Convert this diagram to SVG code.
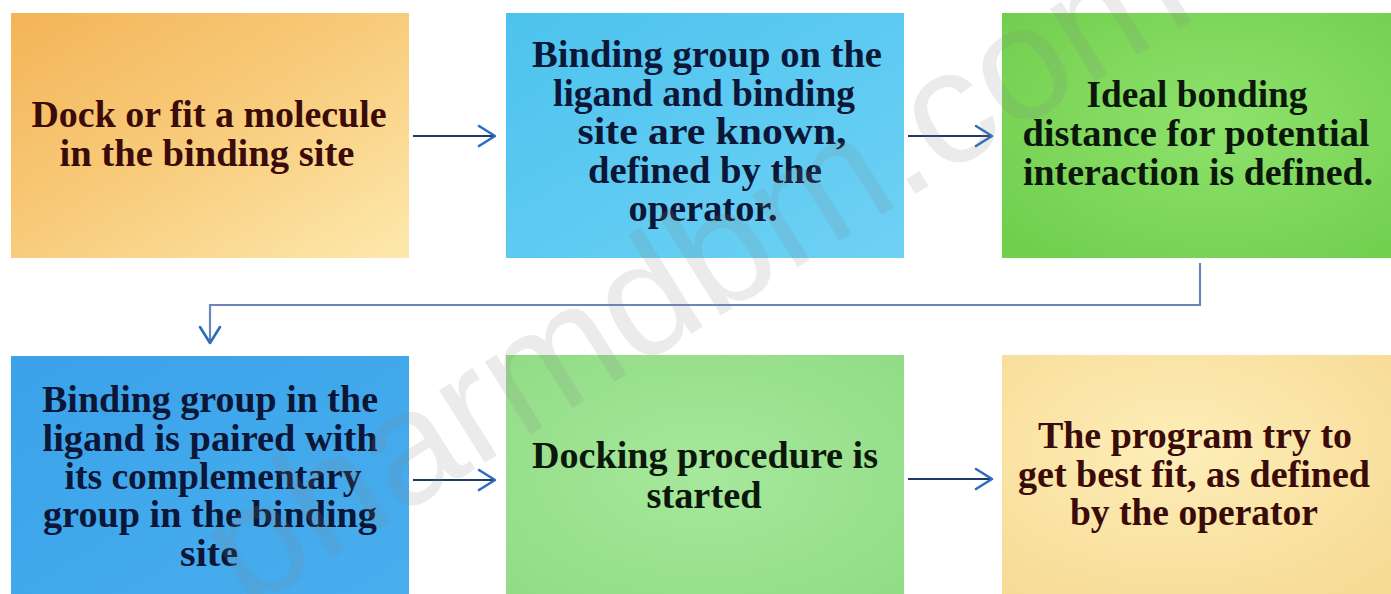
<svg xmlns="http://www.w3.org/2000/svg" width="1391" height="594" viewBox="0 0 1391 594">
  <style>
    .t { font-family: "Liberation Serif", "DejaVu Serif", serif; font-weight: bold; font-size: 37px; text-anchor: middle; }
    .brown { fill: #3a0b08; }
    .navy { fill: #0c1636; }
    .dark { fill: #0b170b; }
    .conn { fill: none; stroke: #1f3a66; stroke-width: 2.2; }
    .elbow { fill: none; stroke: #6a86bd; stroke-width: 2.2; }
  </style>
  <defs>
    <linearGradient id="gOrange" x1="0" y1="0" x2="1" y2="1">
      <stop offset="0" stop-color="#f3b457"/>
      <stop offset="0.5" stop-color="#f8cc7c"/>
      <stop offset="1" stop-color="#fde9ad"/>
    </linearGradient>
    <linearGradient id="gCyan" x1="0" y1="0" x2="1" y2="1">
      <stop offset="0" stop-color="#4cc3ee"/>
      <stop offset="1" stop-color="#6fd1f4"/>
    </linearGradient>
    <radialGradient id="gGreen" cx="0.55" cy="0.45" r="0.7">
      <stop offset="0" stop-color="#8ee26c"/>
      <stop offset="1" stop-color="#72cf4e"/>
    </radialGradient>
    <linearGradient id="gBlue" x1="0" y1="0" x2="1" y2="1">
      <stop offset="0" stop-color="#3ba2ea"/>
      <stop offset="1" stop-color="#48aeee"/>
    </linearGradient>
    <radialGradient id="gLGreen" cx="0.5" cy="0.5" r="0.7">
      <stop offset="0" stop-color="#a6e89c"/>
      <stop offset="1" stop-color="#92dc86"/>
    </radialGradient>
    <radialGradient id="gCream" cx="0.45" cy="0.4" r="0.75">
      <stop offset="0" stop-color="#fdeeb8"/>
      <stop offset="1" stop-color="#f7da94"/>
    </radialGradient>
    <marker id="arr" viewBox="0 0 20 24" refX="18" refY="12" markerWidth="20" markerHeight="24" markerUnits="userSpaceOnUse" orient="auto">
      <path d="M2,2 L18,12 L2,22" fill="none" stroke="#2b6dbd" stroke-width="2.6" stroke-linecap="round" stroke-linejoin="round"/>
    </marker>
  </defs>

  <rect width="1391" height="594" fill="#ffffff"/>

  <g id="node1">
    <rect x="11" y="13" width="398" height="245" fill="url(#gOrange)"/>
    <text class="t brown" x="209" y="127" textLength="355" lengthAdjust="spacingAndGlyphs">Dock or fit a molecule</text>
    <text class="t brown" x="207" y="166" textLength="295" lengthAdjust="spacingAndGlyphs">in the binding  site</text>
  </g>

  <g id="node2">
    <rect x="506" y="13" width="398" height="245" fill="url(#gCyan)"/>
    <text class="t navy" x="707" y="67" textLength="350" lengthAdjust="spacingAndGlyphs">Binding group on the</text>
    <text class="t navy" x="704" y="106" textLength="302" lengthAdjust="spacingAndGlyphs">ligand and binding</text>
    <text class="t navy" x="712" y="144" textLength="269" lengthAdjust="spacingAndGlyphs">site are known,</text>
    <text class="t navy" x="705" y="183" textLength="234" lengthAdjust="spacingAndGlyphs">defined by the</text>
    <text class="t navy" x="703" y="221" textLength="149" lengthAdjust="spacingAndGlyphs">operator.</text>
  </g>

  <g id="node3">
    <rect x="1002" y="13" width="389" height="245" fill="url(#gGreen)"/>
    <text class="t dark" x="1197" y="107" textLength="221" lengthAdjust="spacingAndGlyphs">Ideal bonding</text>
    <text class="t dark" x="1196" y="146" textLength="347" lengthAdjust="spacingAndGlyphs">distance  for potential</text>
    <text class="t dark" x="1198" y="185" textLength="350" lengthAdjust="spacingAndGlyphs">interaction  is defined.</text>
  </g>

  <g id="node4">
    <rect x="11" y="356" width="398" height="238" fill="url(#gBlue)"/>
    <text class="t navy" x="210" y="412" textLength="336" lengthAdjust="spacingAndGlyphs">Binding group in the</text>
    <text class="t navy" x="210" y="451" textLength="335" lengthAdjust="spacingAndGlyphs">ligand is paired with</text>
    <text class="t navy" x="213" y="489" textLength="297" lengthAdjust="spacingAndGlyphs">its complementary</text>
    <text class="t navy" x="210" y="527" textLength="334" lengthAdjust="spacingAndGlyphs">group in the binding</text>
    <text class="t navy" x="209" y="566" textLength="58" lengthAdjust="spacingAndGlyphs">site</text>
  </g>

  <g id="node5">
    <rect x="506" y="355" width="398" height="239" fill="url(#gLGreen)"/>
    <text class="t dark" x="705" y="468" textLength="346" lengthAdjust="spacingAndGlyphs">Docking procedure is</text>
    <text class="t dark" x="704" y="508" textLength="115" lengthAdjust="spacingAndGlyphs">started</text>
  </g>

  <g id="node6">
    <rect x="1002" y="355" width="389" height="239" fill="url(#gCream)"/>
    <text class="t brown" x="1195" y="448" textLength="314" lengthAdjust="spacingAndGlyphs">The program try to</text>
    <text class="t brown" x="1194" y="487" textLength="352" lengthAdjust="spacingAndGlyphs">get best fit, as defined</text>
    <text class="t brown" x="1194" y="525" textLength="248" lengthAdjust="spacingAndGlyphs">by the operator</text>
  </g>

  <g id="connectors">
    <line class="conn" x1="413" y1="136" x2="495" y2="136" marker-end="url(#arr)"/>
    <line class="conn" x1="908" y1="136" x2="992" y2="136" marker-end="url(#arr)"/>
    <path class="elbow" d="M1200,263 L1200,305 L210,305 L210,343" marker-end="url(#arr)"/>
    <line class="conn" x1="413" y1="480" x2="495" y2="480" marker-end="url(#arr)"/>
    <line class="conn" x1="908" y1="479" x2="992" y2="479" marker-end="url(#arr)"/>
  </g>

  <g id="watermark">
    <text x="0" y="0" transform="translate(246,612) rotate(-32)" font-family="Liberation Sans, Arial, sans-serif" font-size="162" fill="#808080" fill-opacity="0.16">pharmdbm.com</text>
  </g>
</svg>
